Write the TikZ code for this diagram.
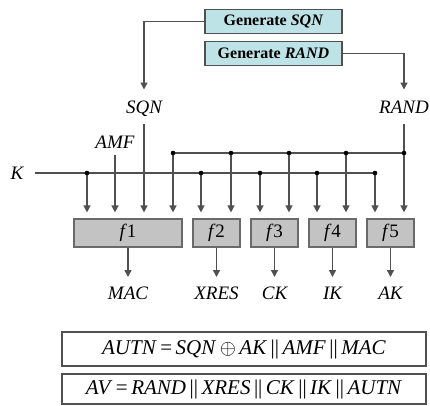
\documentclass[tikz,border=0pt]{standalone}
\usepackage{fontspec}
\setmainfont{Liberation Serif}
\usetikzlibrary{arrows.meta, positioning}
\definecolor{gencyan}{HTML}{BEE3E7}
\definecolor{fgray}{HTML}{C3C3C3}
\definecolor{linegray}{HTML}{505050}

\begin{document}
\begin{tikzpicture}[x=1pt, y=-1pt, >={Triangle[width=7pt,length=7pt]}, font=\fontsize{19}{22}\selectfont]
        % styles
        \tikzstyle{gen} = [draw=linegray, line width=1.4pt, fill=gencyan, minimum width=137pt, minimum height=24pt, inner sep=0pt, font=\fontsize{16}{19}\selectfont\bfseries]
        \tikzstyle{func} = [draw=linegray!85, line width=1.2pt, fill=fgray, minimum height=28pt, inner sep=0pt]
        \tikzstyle{lbl} = [inner sep=0pt, text height=12.6pt, text depth=0pt, font=\fontsize{19}{22}\selectfont\itshape]
        \tikzstyle{formula} = [draw=linegray, line width=1.2pt, minimum width=364pt, inner sep=0pt, font=\fontsize{21}{24}\selectfont]
        \tikzstyle{wire} = [draw=linegray, line width=1.4pt]

        \useasboundingbox (0,0) rectangle (430,405);

        % generators
        \node[gen] (gsqn) at (273.5,21.5) {Generate \textit{SQN}};
        \node[gen] (grand) at (273.5,53.5) {Generate \textit{RAND}};

        % inputs
        \node[lbl] (sqn) at (144,107) {SQN};
        \node[lbl] (rand) at (404,107) {RAND};
        \node[lbl] (amf) at (115,142) {AMF};
        \node[lbl] (k) at (17,173) {K};

        % functions
        \node[func, minimum width=108pt] (f1) at (128,233) {\textit{f}1};
        \node[func, minimum width=47pt] (f2) at (216.5,233) {\textit{f}2};
        \node[func, minimum width=47pt] (f3) at (274.5,233) {\textit{f}3};
        \node[func, minimum width=47pt] (f4) at (332.5,233) {\textit{f}4};
        \node[func, minimum width=47pt] (f5) at (390.5,233) {\textit{f}5};

        % outputs
        \node[lbl] (mac) at (128,293) {MAC};
        \node[lbl] (xres) at (216.5,293) {XRES};
        \node[lbl] (ck) at (274.5,293) {CK};
        \node[lbl] (ik) at (332.5,293) {IK};
        \node[lbl] (ak) at (390.5,293) {AK};

        % vectors
        \node[formula, minimum height=34pt] (autn) at (244,349) {\textit{AUTN}\,=\,\textit{SQN}\,$\oplus$\,\textit{AK}\,||\,\textit{AMF}\,||\,\textit{MAC}};
        \node[formula, minimum height=30pt] (av) at (244,389) {\textit{AV}\,=\,\textit{RAND}\,||\,\textit{XRES}\,||\,\textit{CK}\,||\,\textit{IK}\,||\,\textit{AUTN}};

        % branch points
        \coordinate (k1) at (87,173);
        \coordinate (k2) at (201,173);
        \coordinate (k3) at (260,173);
        \coordinate (k4) at (317,173);
        \coordinate (k5) at (375,173);
        \coordinate (r1) at (173,153);
        \coordinate (r2) at (231,153);
        \coordinate (r3) at (289,153);
        \coordinate (r4) at (346,153);
        \coordinate (r5) at (404,153);

        % wiring
        \draw[wire, ->, shorten >=11pt] (gsqn.west) -| (sqn.north);
        \draw[wire, ->, shorten >=11pt] (grand.east) -| (rand.north);
        \draw[wire, ->, shorten <=10pt, shorten >=6pt] (sqn.south) -- (sqn.south |- f1.north);
        \draw[wire, ->, shorten <=10pt, shorten >=6pt] (rand.south) -- (rand.south |- f5.north);
        \draw[wire, ->, shorten <=6pt, shorten >=6pt] (amf.south) -- (amf.south |- f1.north);
        \draw[wire, shorten <=11.5pt] (k.east) -- (k5);
        \draw[wire] (r1) -- (r5);
        \draw[wire, ->, shorten >=6pt] (k1) -- (k1 |- f1.north);
        \draw[wire, ->, shorten >=6pt] (r1) -- (r1 |- f1.north);
        \draw[wire, ->, shorten >=6pt] (k2) -- (k2 |- f2.north);
        \draw[wire, ->, shorten >=6pt] (r2) -- (r2 |- f2.north);
        \draw[wire, ->, shorten >=6pt] (k3) -- (k3 |- f3.north);
        \draw[wire, ->, shorten >=6pt] (r3) -- (r3 |- f3.north);
        \draw[wire, ->, shorten >=6pt] (k4) -- (k4 |- f4.north);
        \draw[wire, ->, shorten >=6pt] (r4) -- (r4 |- f4.north);
        \draw[wire, ->, shorten >=6pt] (k5) -- (k5 |- f5.north);
        \foreach \p in {k1,k2,k3,k4,k5,r1,r2,r3,r4,r5}
            \fill (\p) circle (2.3pt);

        \draw[wire, ->, shorten >=9.5pt] (f1.south) -- (mac.north);
        \draw[wire, ->, shorten >=9.5pt] (f2.south) -- (xres.north);
        \draw[wire, ->, shorten >=9.5pt] (f3.south) -- (ck.north);
        \draw[wire, ->, shorten >=9.5pt] (f4.south) -- (ik.north);
        \draw[wire, ->, shorten >=9.5pt] (f5.south) -- (ak.north);
\end{tikzpicture}
\end{document}
